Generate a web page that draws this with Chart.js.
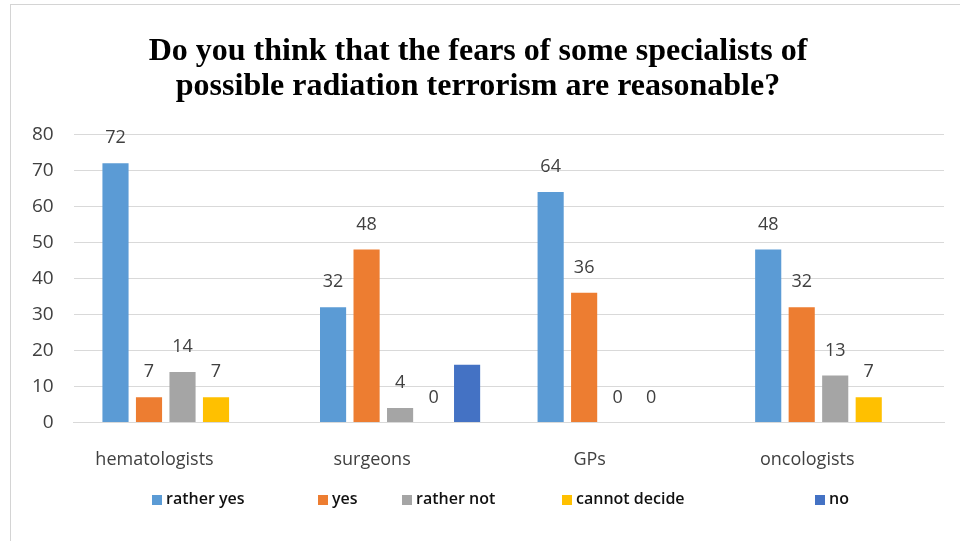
<!DOCTYPE html>
<html>
<head>
<meta charset="utf-8">
<script src="https://cdn.jsdelivr.net/npm/chart.js@4/dist/chart.umd.min.js"></script>
<style>
  html, body { margin: 0; padding: 0; background: #fff; }
  #marco {
    position: absolute; left: 10px; top: 4px; width: 950px; height: 537px;
    border-left: 1px solid #d4d4d4; border-top: 1px solid #d4d4d4;
  }
  #contenedor { position: absolute; left: 0; top: 0; width: 960px; height: 541px; }
  #leyenda { position: absolute; left: 0; top: 486px; width: 960px; height: 24px; }
  .item {
    position: absolute; top: 0; height: 24px; line-height: 24px; white-space: nowrap;
    font-family: "Open Sans", "Liberation Sans", sans-serif; font-size: 16px; font-weight: 600; color: #111;
  }
  .caja { display: inline-block; width: 10px; height: 10px; margin-right: 4px; vertical-align: -1px; }
</style>
</head>
<body>
<div id="marco"></div>
<div id="contenedor"><canvas id="miGrafica" width="960" height="541"></canvas></div>
<div id="leyenda"></div>
<script>
// Datos de la gráfica
const categorias = ['hematologists', 'surgeons', 'GPs', 'oncologists'];
const ratherYes = [72, 32, 64, 48];
const yes = [7, 48, 36, 32];
const ratherNot = [14, 4, 0, 13];
const cannotDecide = [7, 0, 0, 7];
const no = [0, 16, 0, 0];
const yTicks = [0, 10, 20, 30, 40, 50, 60, 70, 80];

const titulo = ['Do you think that the fears of some specialists of',
                'possible radiation terrorism are reasonable?'];

// Posición horizontal de cada elemento de la leyenda (como en la imagen original)
const posLeyenda = [152, 318, 402, 562, 815];

// Plugin para dibujar los valores encima de las barras (la serie "no" no lleva etiqueta)
const etiquetasValores = {
    id: 'etiquetasValores',
    afterDatasetsDraw(chart) {
        const ctx = chart.ctx;
        ctx.save();
        ctx.font = '18px "Open Sans", "Liberation Sans", sans-serif';
        ctx.fillStyle = '#404040';
        ctx.textAlign = 'center';
        ctx.textBaseline = 'middle';
        chart.data.datasets.forEach((ds, i) => {
            if (ds.sinEtiqueta) return;
            chart.getDatasetMeta(i).data.forEach((bar, j) => {
                ctx.fillText(ds.data[j], bar.x, bar.y - 25);
            });
        });
        ctx.restore();
    }
};

const ctx = document.getElementById('miGrafica').getContext('2d');

window.miGrafica = new Chart(ctx, {
    type: 'bar',
    data: {
        labels: categorias,
        datasets: [
            { label: 'rather yes', data: ratherYes, backgroundColor: '#5b9bd5' },
            { label: 'yes', data: yes, backgroundColor: '#ed7d31' },
            { label: 'rather not', data: ratherNot, backgroundColor: '#a5a5a5' },
            { label: 'cannot decide', data: cannotDecide, backgroundColor: '#ffc000' },
            { label: 'no', data: no, backgroundColor: '#4472c4', sinEtiqueta: true }
        ]
    },
    options: {
        responsive: false,
        animation: false,
        datasets: {
            bar: { categoryPercentage: 0.77, barPercentage: 0.78 }
        },
        layout: { padding: { left: 12, right: 16, top: 20, bottom: 51 } },
        plugins: {
            title: {
                display: true,
                text: titulo,
                color: '#000',
                font: { family: '"Liberation Serif", "Times New Roman", serif', size: 32, weight: 'bold', lineHeight: 1.1 },
                padding: { top: 14, bottom: 30 }
            },
            legend: { display: false },
            tooltip: { enabled: false }
        },
        scales: {
            x: {
                grid: { display: false },
                border: { display: true, color: '#d9d9d9' },
                ticks: {
                    color: '#404040',
                    padding: 19,
                    labelOffset: -28,
                    font: { family: '"Open Sans", "Liberation Sans", sans-serif', size: 18 }
                }
            },
            y: {
                min: 0,
                max: 80,
                afterBuildTicks(scale) {
                    scale.ticks = yTicks.map(v => ({ value: v }));
                },
                grid: { color: '#d9d9d9', drawTicks: false },
                border: { display: false },
                ticks: {
                    color: '#404040',
                    padding: 20,
                    font: { family: '"Open Sans", "Liberation Sans", sans-serif', size: 19 }
                }
            }
        }
    },
    plugins: [etiquetasValores]
});

// Leyenda en HTML a partir de los datasets de la gráfica
const leyenda = document.getElementById('leyenda');
window.miGrafica.data.datasets.forEach((ds, i) => {
    const item = document.createElement('div');
    item.className = 'item';
    item.style.left = posLeyenda[i] + 'px';
    const caja = document.createElement('span');
    caja.className = 'caja';
    caja.style.background = ds.backgroundColor;
    item.appendChild(caja);
    item.appendChild(document.createTextNode(ds.label));
    leyenda.appendChild(item);
});
</script>
</body>
</html>
